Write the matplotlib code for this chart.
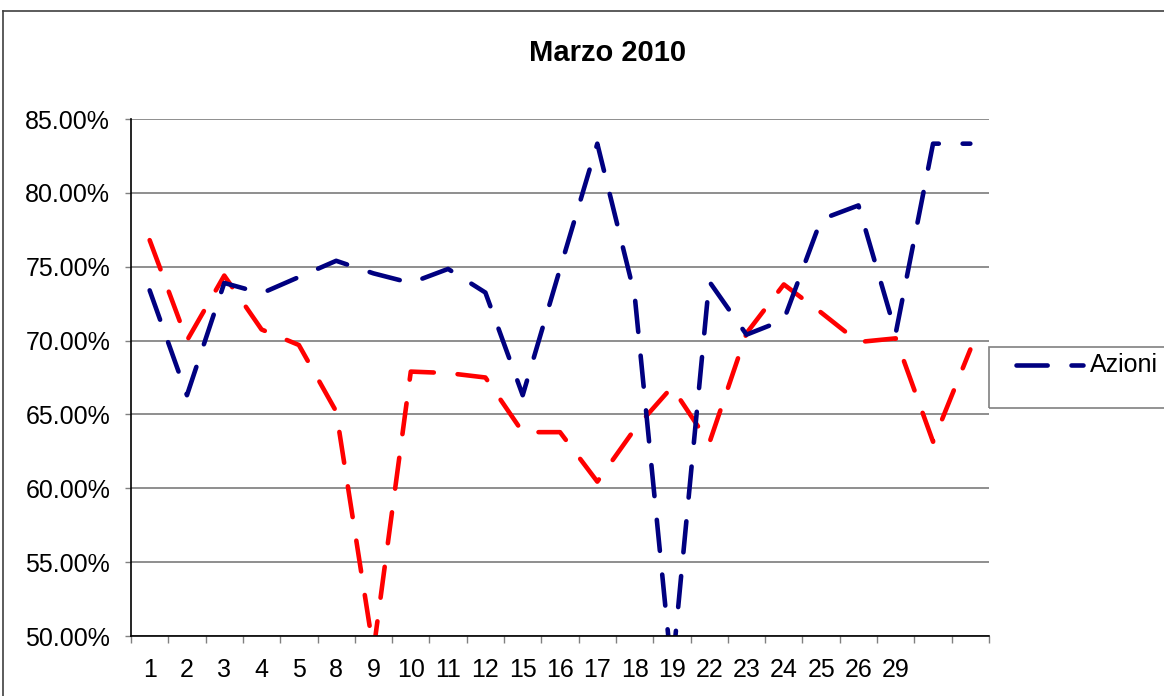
import matplotlib
matplotlib.use('Agg')
import matplotlib.pyplot as plt
from matplotlib.lines import Line2D
from matplotlib.patches import Rectangle
from matplotlib.ticker import FixedLocator, FuncFormatter

stretto = ['Liberation Sans Narrow', 'Liberation Sans', 'DejaVu Sans']
plt.rcParams['font.family'] = stretto

# giorni di borsa (le ultime due categorie non hanno etichetta)
giorni = ['1', '2', '3', '4', '5', '8', '9', '10', '11', '12', '15', '16', '17',
          '18', '19', '22', '23', '24', '25', '26', '29', '', '']
# valori in percentuale
azioni = [73.4, 66.3, 73.9, 73.2, 74.3, 75.4, 74.55, 73.9, 74.85, 73.25, 66.3,
          74.85, 83.33, 73.1, 47.5, 74.0, 70.4, 71.4, 78.2, 79.15, 70.5, 83.33, 83.33]
seconda_serie = [76.8, 70.0, 74.4, 70.75, 69.7, 65.2, 49.0, 67.9, 67.8, 67.5, 63.8,
                 63.8, 60.45, 64.0, 66.85, 63.05, 70.5, 73.8, 71.9, 69.9, 70.15, 63.15, 69.4]
y_ticks = [50, 55, 60, 65, 70, 75, 80, 85]

W, H = 1164, 696
fig = plt.figure(figsize=(W / 100, H / 100), dpi=100)
ax = fig.add_axes([131 / W, 1 - 636 / H, (989 - 131) / W, (636 - 119) / H])

n = len(giorni)
x = list(range(n))
stile = dict(lw=3.3, linestyle=(0, (6.8, 5.2)), dash_capstyle='round',
             solid_capstyle='round', dash_joinstyle='round')
ax.plot(x, seconda_serie, color='#FF0000', **stile)
ax.plot(x, azioni, color='#000080', **stile)

ax.set_xlim(-0.5, n - 0.5)
ax.set_ylim(50, 85)

# assi stile excel
ax.yaxis.set_major_locator(FixedLocator(y_ticks))
ax.yaxis.set_major_formatter(FuncFormatter(lambda v, p: f'{v:.2f}%'))
ax.grid(axis='y', color='#707070', lw=1.1)
ax.set_axisbelow(True)
ax.tick_params(axis='y', length=4.5, width=1, pad=10.5, labelsize=18, color='#808080')

ax.xaxis.set_major_locator(FixedLocator([i - 0.5 for i in range(n + 1)]))
ax.xaxis.set_major_formatter(FuncFormatter(lambda v, p: ''))
ax.xaxis.set_minor_locator(FixedLocator(x))
ax.set_xticklabels(giorni, minor=True)
ax.tick_params(axis='x', which='major', length=5, width=1, color='#808080')
ax.tick_params(axis='x', which='minor', length=0, pad=15.5, labelsize=18)

for s in ['top', 'right']:
    ax.spines[s].set_visible(False)
for s in ['left', 'bottom']:
    ax.spines[s].set_color('black')
    ax.spines[s].set_linewidth(1.2)

# titolo
fig.text(608 / W, 1 - 53 / H, 'Marzo 2010', ha='center', va='center',
         fontsize=21, fontweight='bold', family=['Liberation Sans', 'DejaVu Sans'])

# bordo area grafico
fig.add_artist(Line2D([3 / W, 1], [1 - 11 / H, 1 - 11 / H], color='#404040', lw=1.2))
fig.add_artist(Line2D([3 / W, 3 / W], [0, 1 - 11 / H], color='#404040', lw=1.2))

# legenda
fig.add_artist(Rectangle((989 / W, 1 - 408 / H), (W - 989 + 10) / W, 61 / H,
                         transform=fig.transFigure, fill=False, ec='#808080', lw=1.2))
fig.add_artist(Line2D([1016 / W, 1083 / W], [1 - 365 / H, 1 - 365 / H],
                      color='#000080', **stile))
fig.text(1090 / W, 1 - 365 / H, 'Azioni', ha='left', va='center', fontsize=18)

fig.savefig('out.png', dpi=100)
